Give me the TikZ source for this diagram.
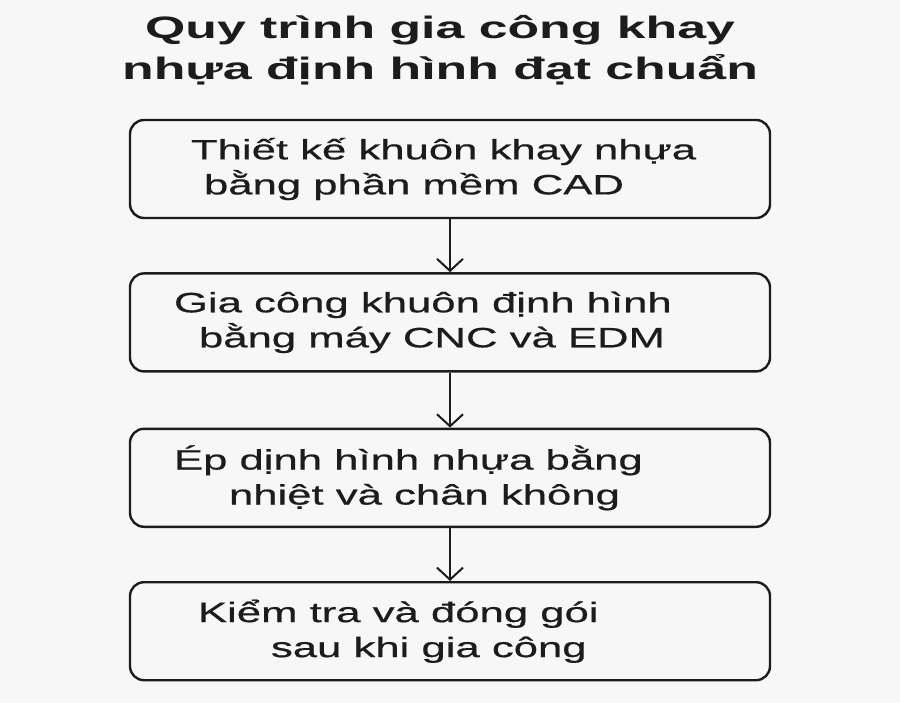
\documentclass[tikz,border=0pt]{standalone}
\usepackage{fontspec}
\setmainfont[FakeStretch=1.56,FakeBold=0.6]{Liberation Sans}
\newfontfamily\titlefont[FakeStretch=1.67]{Liberation Sans}
\usetikzlibrary{positioning,arrows.meta}

\definecolor{bgcol}{RGB}{247,247,247}
\definecolor{inkcol}{RGB}{28,28,28}

\tikzset{
  stage/.style={draw=inkcol, line width=2.4pt, rounded corners=14pt,
    minimum width=640pt, minimum height=98pt},
  stagetext/.style={anchor=west, inner sep=0pt, align=left, text=inkcol,
    font=\fontsize{28}{35}\selectfont},
  flow/.style={draw=inkcol, line width=2pt,
    -{Straight Barb[length=12pt,width=26pt,line width=2pt]}},
}

\begin{document}
\begin{tikzpicture}[x=1pt,y=-1pt, node distance=54pt]

  \path[use as bounding box, fill=bgcol] (0,0) rectangle (900,703);

  \node (title) [align=center, inner sep=0pt, text=inkcol,
    font=\titlefont\bfseries\fontsize{31}{41}\selectfont] at (440,50)
    {Quy trình gia công khay\\nhựa định hình đạt chuẩn};

  \node (design) [stage] at (450,169) {};
  \node (machining) [stage, below=of design, yshift=1pt] {};
  \node (forming) [stage, below=of machining, yshift=-1pt] {};
  \node (packing) [stage, below=of forming, yshift=1pt] {};

  \node (design-t) [stagetext] at ([xshift=62pt]design.west)
    {Thiết kế khuôn khay nhựa\\\hspace*{13pt}bằng phần mềm CAD};
  \node (machining-t) [stagetext] at ([xshift=45pt]machining.west)
    {Gia công khuôn định hình\\\hspace*{25pt}bằng máy CNC và EDM};
  \node (forming-t) [stagetext] at ([xshift=45pt]forming.west)
    {Ép dịnh hình nhựa bằng\\\hspace*{55pt}nhiệt và chân không};
  \node (packing-t) [stagetext] at ([xshift=69pt]packing.west)
    {Kiểm tra và đóng gói\\\hspace*{73pt}sau khi gia công};

  \draw [flow] (design) -- (machining);
  \draw [flow] (machining) -- (forming);
  \draw [flow] (forming) -- (packing);

\end{tikzpicture}
\end{document}
